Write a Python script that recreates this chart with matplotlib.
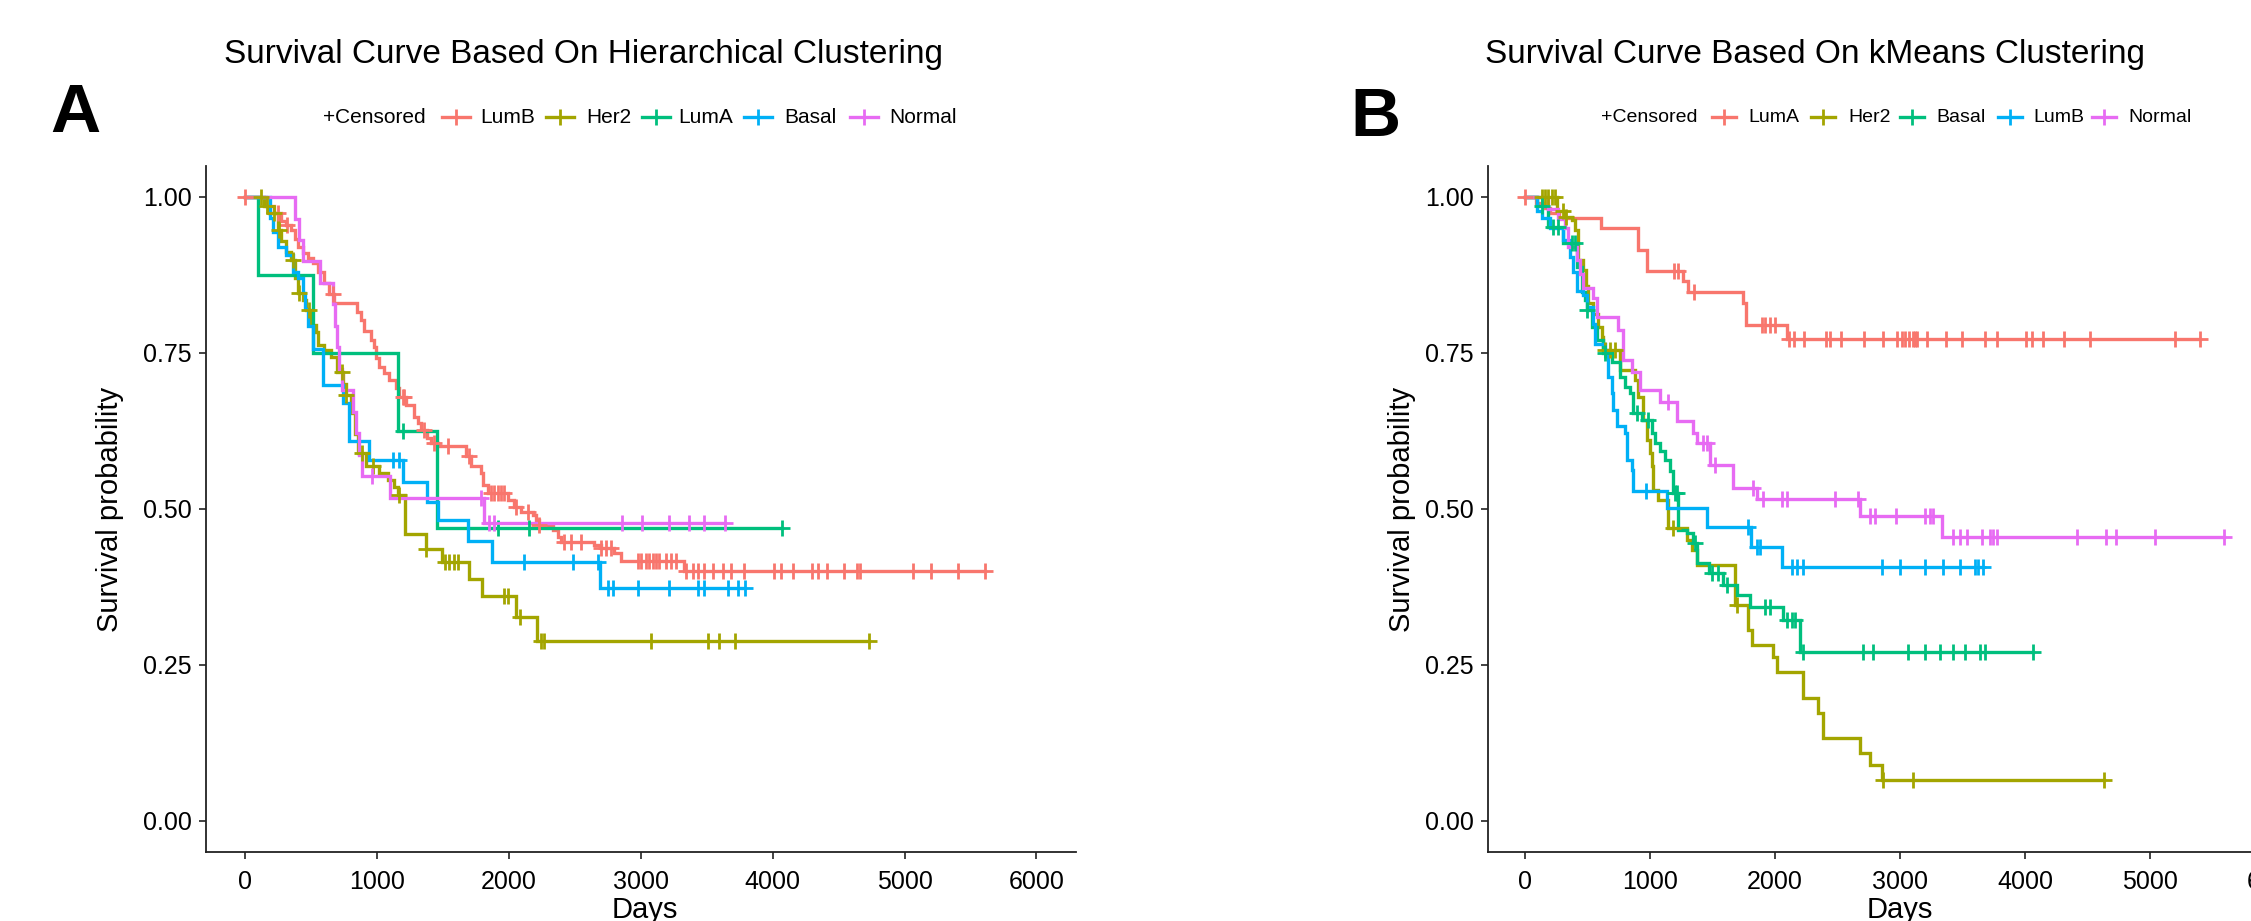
import numpy as np
import matplotlib
matplotlib.use("Agg")
import matplotlib.pyplot as plt
from matplotlib.lines import Line2D

plt.rcParams['font.family'] = ['Liberation Sans', 'DejaVu Sans']

COLORS = ['#F8766D', '#A3A500', '#00BF7D', '#00B0F6', '#E76BF3']

# ---------------- Panel A : Hierarchical clustering ----------------
a_title = "Survival Curve Based On Hierarchical Clustering"
a_groups = ['LumB', 'Her2', 'LumA', 'Basal', 'Normal']

a_lumb_t = [159, 222, 273, 311, 349, 380, 399, 437, 475, 513, 551, 601, 639, 677, 849, 880, 905, 955,
            980, 990, 1018, 1056, 1094, 1145, 1170, 1221, 1284, 1309, 1335, 1380, 1410, 1461, 1676,
            1714, 1790, 1802, 1840, 1992, 2042, 2093, 2181, 2206, 2232, 2333, 2371, 2396, 2649, 2699,
            2800, 2851, 3331]
a_lumb_s = [0.985, 0.974, 0.962, 0.955, 0.947, 0.933, 0.920, 0.910, 0.902, 0.894, 0.880, 0.862, 0.845,
            0.830, 0.816, 0.803, 0.785, 0.771, 0.760, 0.742, 0.728, 0.717, 0.707, 0.693, 0.680, 0.666,
            0.648, 0.638, 0.626, 0.613, 0.606, 0.600, 0.584, 0.568, 0.557, 0.538, 0.525, 0.514, 0.503,
            0.495, 0.490, 0.482, 0.474, 0.466, 0.455, 0.447, 0.442, 0.437, 0.429, 0.416, 0.400]
a_lumb_c = [0, 250, 320, 665, 1195, 1208, 1360, 1436, 1537, 1701, 1865, 1890, 1915, 1940, 1965, 2055,
            2143, 2232, 2421, 2472, 2548, 2699, 2740, 2775, 2977, 3002, 3040, 3065, 3091, 3116, 3141,
            3192, 3230, 3268, 3344, 3394, 3432, 3483, 3546, 3622, 3685, 3786, 4013, 4064, 4152, 4301,
            4345, 4410, 4541, 4640, 4660, 5063, 5203, 5403, 5608]

a_her2_t = [147, 184, 248, 273, 311, 349, 380, 400, 437, 462, 490, 538, 556, 601, 652, 700, 740, 766,
            804, 830, 854, 917, 1018, 1082, 1132, 1160, 1215, 1370, 1490, 1700, 1800, 2053, 2210]
a_her2_s = [0.985, 0.974, 0.947, 0.929, 0.912, 0.899, 0.870, 0.846, 0.835, 0.819, 0.795, 0.784, 0.762,
            0.755, 0.744, 0.720, 0.700, 0.683, 0.653, 0.620, 0.589, 0.568, 0.557, 0.546, 0.535, 0.522,
            0.460, 0.435, 0.414, 0.388, 0.360, 0.327, 0.288]
a_her2_c = [124, 168, 220, 260, 363, 407, 488, 733, 766, 886, 972, 1168, 1370, 1517, 1545, 1582, 1613,
            1966, 1995, 2082, 2245, 2270, 3074, 3511, 3596, 3718, 4730]

a_luma_t = [96, 513, 1157, 1456]
a_luma_s = [0.875, 0.750, 0.625, 0.469]
a_luma_c = [1200, 1920, 2150, 4070]

a_basal_t = [190, 215, 250, 311, 361, 400, 437, 455, 475, 516, 590, 746, 790, 942, 1195, 1380, 1465,
             1690, 1875, 2690]
a_basal_s = [0.967, 0.944, 0.920, 0.907, 0.880, 0.870, 0.846, 0.820, 0.793, 0.756, 0.698, 0.670, 0.609,
             0.578, 0.543, 0.511, 0.482, 0.449, 0.415, 0.373]
a_basal_c = [1125, 1169, 2118, 2485, 2675, 2750, 2790, 2977, 3215, 3432, 3480, 3660, 3740, 3790]

a_normal_t = [379, 412, 442, 571, 665, 680, 697, 712, 735, 816, 840, 865, 885, 1100, 1810]
a_normal_s = [0.965, 0.931, 0.897, 0.862, 0.828, 0.793, 0.759, 0.724, 0.690, 0.655, 0.621, 0.586,
              0.552, 0.517, 0.477]
a_normal_c = [960, 1789, 1853, 1891, 2860, 3007, 3215, 3368, 3483, 3640]

# ---------------- Panel B : kMeans clustering ----------------
b_title = "Survival Curve Based On kMeans Clustering"
b_groups = ['LumA', 'Her2', 'Basal', 'LumB', 'Normal']

b_luma_t = [90, 150, 200, 270, 610, 900, 975, 1260, 1300, 1740, 1770, 2095]
b_luma_s = [0.991, 0.983, 0.974, 0.966, 0.951, 0.915, 0.882, 0.866, 0.848, 0.830, 0.794, 0.773]
b_luma_c = [0, 1190, 1225, 1355, 1893, 1920, 1960, 2000, 2110, 2150, 2230, 2410, 2440, 2530, 2712,
            2861, 2979, 3013, 3040, 3075, 3101, 3120, 3139, 3213, 3368, 3493, 3680, 3773, 4008, 4053,
            4147, 4312, 4520, 5200, 5400]

b_her2_t = [253, 320, 373, 400, 427, 467, 490, 507, 547, 587, 613, 627, 760, 880, 907, 947, 973, 1000,
            1013, 1027, 1067, 1147, 1293, 1333, 1373, 1680, 1787, 1813, 1987, 2013, 2227, 2347, 2387,
            2680, 2760, 2853]
b_her2_s = [0.977, 0.968, 0.963, 0.947, 0.899, 0.883, 0.857, 0.830, 0.813, 0.792, 0.776, 0.755, 0.723,
            0.707, 0.680, 0.643, 0.611, 0.590, 0.568, 0.530, 0.514, 0.469, 0.450, 0.434, 0.410, 0.346,
            0.306, 0.282, 0.263, 0.239, 0.196, 0.172, 0.132, 0.108, 0.089, 0.065]
b_her2_c = [133, 160, 187, 213, 240, 300, 330, 640, 680, 720, 1187, 1693, 2867, 3100, 4630]

b_basal_t = [93, 187, 307, 413, 453, 480, 493, 533, 573, 620, 693, 760, 800, 840, 867, 933, 1013, 1040,
             1080, 1120, 1160, 1187, 1227, 1293, 1347, 1373, 1470, 1587, 1693, 1800, 2067, 2200]
b_basal_s = [0.985, 0.952, 0.926, 0.888, 0.848, 0.835, 0.819, 0.792, 0.771, 0.750, 0.736, 0.712, 0.696,
             0.685, 0.653, 0.642, 0.621, 0.605, 0.592, 0.578, 0.560, 0.525, 0.466, 0.461, 0.445, 0.413,
             0.397, 0.378, 0.362, 0.343, 0.322, 0.271]
b_basal_c = [133, 227, 267, 373, 400, 493, 640, 893, 987, 1200, 1213, 1360, 1493, 1547, 1613, 1920,
             1960, 2093, 2133, 2160, 2227, 2707, 2787, 3067, 3200, 3320, 3427, 3520, 3640, 3680, 4067]

b_lumb_t = [93, 133, 200, 307, 360, 387, 413, 467, 493, 547, 560, 640, 667, 693, 707, 733, 800, 813,
            853, 867, 1133, 1453, 1808, 2053]
b_lumb_s = [0.977, 0.966, 0.950, 0.931, 0.904, 0.880, 0.850, 0.843, 0.824, 0.797, 0.765, 0.755, 0.712,
            0.685, 0.659, 0.632, 0.621, 0.578, 0.562, 0.528, 0.501, 0.471, 0.439, 0.407]
b_lumb_c = [968, 1787, 1853, 1880, 2133, 2173, 2227, 2853, 3000, 3200, 3347, 3480, 3600, 3627, 3660]

b_normal_t = [187, 260, 320, 347, 413, 440, 467, 547, 573, 747, 787, 853, 920, 1080, 1213, 1341, 1373,
              1480, 1667, 1853, 2680, 3333]
b_normal_s = [0.980, 0.965, 0.950, 0.920, 0.899, 0.876, 0.854, 0.838, 0.808, 0.787, 0.739, 0.720,
              0.691, 0.672, 0.640, 0.621, 0.605, 0.570, 0.533, 0.516, 0.488, 0.455]
b_normal_c = [1147, 1427, 1453, 1520, 1827, 1907, 2053, 2093, 2480, 2667, 2760, 2800, 2968, 3200, 3240,
              3267, 3427, 3480, 3539, 3653, 3720, 3747, 3776, 4413, 4648, 4728, 5040, 5592]

x_ticks = [0, 1000, 2000, 3000, 4000, 5000, 6000]
y_ticks = [0.0, 0.25, 0.50, 0.75, 1.0]

W, H = 2251, 921
fig = plt.figure(figsize=(W / 100, H / 100), dpi=100)


def fx(x):
    return x / W


def fy(y):
    return 1 - y / H


LW = 2.4
MS = 12
MEW = 2.0


def draw_km(ax, t, s, c, color):
    t = np.asarray(t, float)
    s = np.asarray(s, float)
    c = np.asarray(c, float)
    end = max(c.max(), t.max())
    tt = np.concatenate([[0.0], t, [end]])
    ss = np.concatenate([[1.0], s, [s[-1]]])
    ax.step(tt, ss, where='post', color=color, lw=LW, solid_joinstyle='miter', zorder=2)
    idx = np.searchsorted(t, c, side='right') - 1
    cs = np.where(idx >= 0, s[np.clip(idx, 0, None)], 1.0)
    ax.plot(c, cs, ls='none', marker='+', ms=MS, mew=MEW, color=color, zorder=3)


def style_axes(ax):
    ax.set_xlim(-300, 6300)
    ax.set_ylim(-0.05, 1.05)
    ax.set_xticks(x_ticks)
    ax.set_yticks(y_ticks)
    ax.set_yticklabels([f"{v:.2f}" for v in y_ticks])
    for side in ['top', 'right']:
        ax.spines[side].set_visible(False)
    for side in ['left', 'bottom']:
        ax.spines[side].set_linewidth(1.3)
        ax.spines[side].set_color('#222222')
    ax.tick_params(axis='both', direction='out', length=5, width=1.2, color='#222222',
                   labelsize=18, pad=5, labelcolor='black')
    ax.tick_params(axis='x', pad=8)


def legend(groups, txt_left, key_centers, lab_lefts, y, fs, half):
    fig.text(fx(txt_left), fy(y), '+Censored', fontsize=fs, ha='left', va='center')
    for g, col, kc, tl in zip(groups, COLORS, key_centers, lab_lefts):
        fig.add_artist(Line2D([fx(kc - half), fx(kc + half)], [fy(y), fy(y)], color=col, lw=LW,
                              transform=fig.transFigure))
        fig.add_artist(Line2D([fx(kc)], [fy(y)], color=col, marker='+', ms=MS, mew=MEW, ls='none',
                              transform=fig.transFigure))
        fig.text(fx(tl), fy(y), g, fontsize=fs, ha='left', va='center')


# Panel A
axA = fig.add_axes([205.5 / W, (H - 851.8) / H, 870.5 / W, 686 / H])
for (t, s, c), col in zip([(a_lumb_t, a_lumb_s, a_lumb_c), (a_her2_t, a_her2_s, a_her2_c),
                           (a_luma_t, a_luma_s, a_luma_c), (a_basal_t, a_basal_s, a_basal_c),
                           (a_normal_t, a_normal_s, a_normal_c)], COLORS):
    draw_km(axA, t, s, c, col)
style_axes(axA)

# Panel B (runs off the right edge like the reference)
axB = fig.add_axes([1487.5 / W, (H - 851.8) / H, 825 / W, 686 / H])
for (t, s, c), col in zip([(b_luma_t, b_luma_s, b_luma_c), (b_her2_t, b_her2_s, b_her2_c),
                           (b_basal_t, b_basal_s, b_basal_c), (b_lumb_t, b_lumb_s, b_lumb_c),
                           (b_normal_t, b_normal_s, b_normal_c)], COLORS):
    draw_km(axB, t, s, c, col)
style_axes(axB)

# Axis labels
fig.text(fx(110), fy(509), 'Survival probability', rotation=90, fontsize=21, ha='center', va='center')
fig.text(fx(1402), fy(509), 'Survival probability', rotation=90, fontsize=21, ha='center', va='center')
fig.text(fx(645), fy(910), 'Days', fontsize=21, ha='center', va='center')
fig.text(fx(1900), fy(910), 'Days', fontsize=21, ha='center', va='center')

# Titles
fig.text(fx(583), fy(54), a_title, fontsize=24, ha='center', va='center')
fig.text(fx(1815), fy(54), b_title, fontsize=24, ha='center', va='center')

# Panel letters
fig.text(fx(75), fy(114), 'A', fontsize=50, fontweight='bold', ha='center', va='center')
fig.text(fx(1375), fy(118), 'B', fontsize=50, fontweight='bold', ha='center', va='center')

# Legends
legend(a_groups, 323, [456, 560, 656, 758, 864], [480, 586, 678, 784, 889], 117, 15, 14)
legend(b_groups, 1601, [1724, 1823, 1912, 2010, 2104], [1748, 1848, 1936, 2033, 2128], 117, 14, 12)

fig.savefig('out.png', dpi=100)
